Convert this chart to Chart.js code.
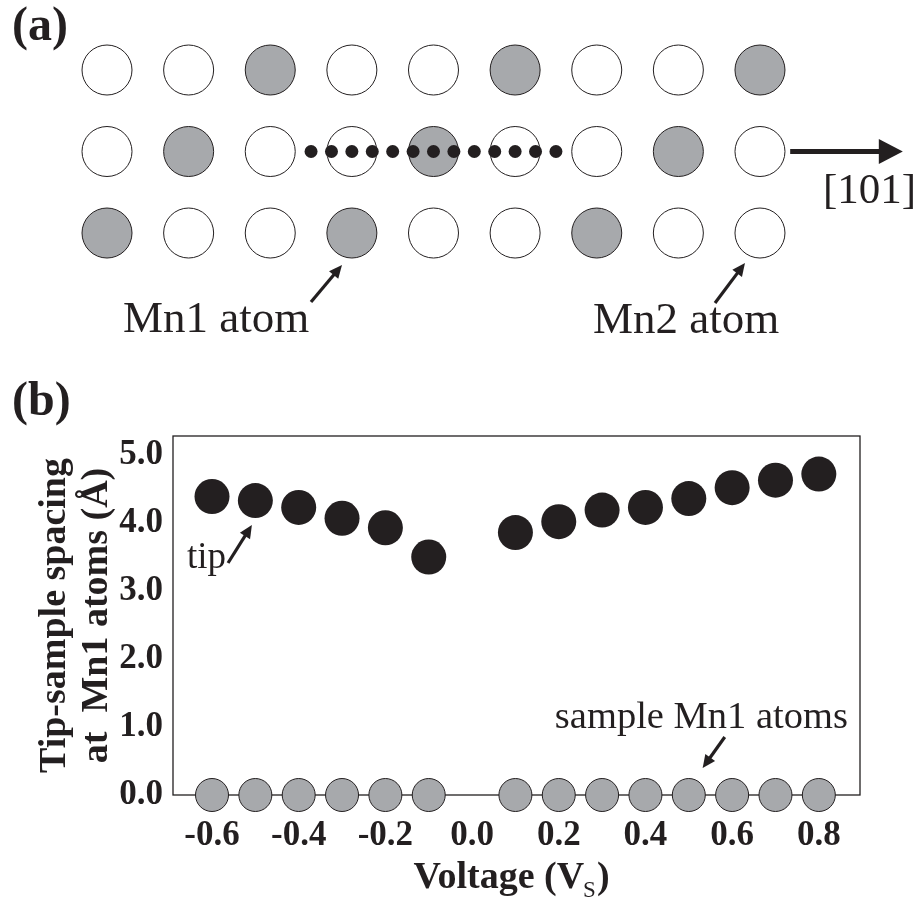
<!DOCTYPE html>
<html>
<head>
<meta charset="utf-8">
<title>Tip-sample spacing at Mn1 atoms</title>
<script src="https://cdn.jsdelivr.net/npm/chart.js@4.4.1/dist/chart.umd.min.js"></script>
<style>
  html, body { margin: 0; padding: 0; background: #ffffff; }
  #figure { position: relative; width: 922px; height: 903px; overflow: hidden; }
  .panel { position: absolute; left: 0; width: 922px; }
  #panelA { top: 0; height: 360px; }
  #panelB { top: 360px; height: 543px; }
  canvas { display: block; }
</style>
</head>
<body>
<div id="figure">
  <div class="panel" id="panelA"><canvas id="lattice" width="922" height="360"></canvas></div>
  <div class="panel" id="panelB"><canvas id="spacing" width="922" height="543"></canvas></div>
</div>
<script>
// ---------- panel (a): surface lattice ----------
// columns along [101] and the three atom rows
const latticeColumns = [1, 2, 3, 4, 5, 6, 7, 8, 9];
const latticeRows = [1, 2, 3];
// Mn1 (grey) sites per row, by column
const mn1ColsRow1 = [3, 6, 9];
const mn1ColsRow2 = [2, 5, 8];
const mn1ColsRow3 = [1, 4, 7];
// Mn2 (white) sites per row, by column
const mn2ColsRow1 = [1, 2, 4, 5, 7, 8];
const mn2ColsRow2 = [1, 3, 4, 6, 7, 9];
const mn2ColsRow3 = [2, 3, 5, 6, 8, 9];
// scan path dots along the middle row
const scanRow = 2;
const scanDots = [3.5, 3.75, 4.0, 4.25, 4.5, 4.75, 5.0, 5.25, 5.5, 5.75, 6.0, 6.25, 6.5];

// ---------- panel (b): tip-sample spacing ----------
const voltages = [-0.6, -0.5, -0.4, -0.3, -0.2, -0.1, 0.1, 0.2, 0.3, 0.4, 0.5, 0.6, 0.7, 0.8];
const tipSpacing = [4.39, 4.33, 4.23, 4.07, 3.93, 3.50, 3.86, 4.02, 4.19, 4.23, 4.36, 4.52, 4.63, 4.72];
const sampleHeight = [0, 0, 0, 0, 0, 0, 0, 0, 0, 0, 0, 0, 0, 0];
const xTicks = [-0.6, -0.4, -0.2, 0.0, 0.2, 0.4, 0.6, 0.8];
const yTicks = [0, 1, 2, 3, 4, 5];

const INK = '#231f20';
const MN1_GREY = '#a7a9ac';
const SERIF = '"Liberation Serif", "Times New Roman", Times, serif';

function sitesInRow(cols, row) {
  return cols.map(c => ({ x: c, y: row }));
}

function drawArrow(ctx, x0, y0, x1, y1, width, headLen, headHalf) {
  const ang = Math.atan2(y1 - y0, x1 - x0);
  const bx = x1 - headLen * Math.cos(ang);
  const by = y1 - headLen * Math.sin(ang);
  ctx.save();
  ctx.strokeStyle = INK;
  ctx.fillStyle = INK;
  ctx.lineWidth = width;
  ctx.lineCap = 'butt';
  ctx.beginPath();
  ctx.moveTo(x0, y0);
  ctx.lineTo(bx + Math.cos(ang), by + Math.sin(ang));
  ctx.stroke();
  ctx.beginPath();
  ctx.moveTo(x1, y1);
  ctx.lineTo(bx + headHalf * Math.sin(ang), by - headHalf * Math.cos(ang));
  ctx.lineTo(bx - headHalf * Math.sin(ang), by + headHalf * Math.cos(ang));
  ctx.closePath();
  ctx.fill();
  ctx.restore();
}

function drawText(ctx, text, x, y, font, align) {
  ctx.save();
  ctx.font = font;
  ctx.fillStyle = INK;
  ctx.textAlign = align || 'left';
  ctx.textBaseline = 'alphabetic';
  ctx.fillText(text, x, y);
  ctx.restore();
}

// labels and arrows of the lattice sketch, placed in lattice units
const latticeNotes = {
  id: 'latticeNotes',
  afterDatasetsDraw(chart) {
    const { ctx, scales: { x, y } } = chart;
    const px = v => x.getPixelForValue(v);
    const py = v => y.getPixelForValue(v);
    // [101] direction arrow leaving the middle row
    drawArrow(ctx, px(9.37), py(2), px(10.75), py(2), 5, 24, 12.5);
    drawText(ctx, '[101]', px(9.772), py(2.632), '43px ' + SERIF);
    // site pointers
    drawArrow(ctx, px(3.499), py(3.847), px(3.879), py(3.393), 3.2, 13, 6);
    drawText(ctx, 'Mn1 atom', px(1.196), py(4.215), '45px ' + SERIF);
    drawArrow(ctx, px(8.449), py(3.859), px(8.816), py(3.368), 3.2, 13, 6);
    drawText(ctx, 'Mn2 atom', px(6.954), py(4.227), '45px ' + SERIF);
    // panel tag
    drawText(ctx, '(a)', 12, 40, 'bold 48px ' + SERIF);
  }
};

new Chart(document.getElementById('lattice'), {
  type: 'scatter',
  data: {
    datasets: [
      {
        label: 'scan path',
        data: scanDots.map(c => ({ x: c, y: scanRow })),
        pointRadius: 6.5,
        pointBackgroundColor: INK,
        pointBorderWidth: 0,
        order: 0
      },
      {
        label: 'Mn1 atoms',
        data: [
          ...sitesInRow(mn1ColsRow1, latticeRows[0]),
          ...sitesInRow(mn1ColsRow2, latticeRows[1]),
          ...sitesInRow(mn1ColsRow3, latticeRows[2])
        ],
        pointRadius: 25,
        pointBackgroundColor: MN1_GREY,
        pointBorderColor: INK,
        pointBorderWidth: 1,
        order: 1
      },
      {
        label: 'Mn2 atoms',
        data: [
          ...sitesInRow(mn2ColsRow1, latticeRows[0]),
          ...sitesInRow(mn2ColsRow2, latticeRows[1]),
          ...sitesInRow(mn2ColsRow3, latticeRows[2])
        ],
        pointRadius: 25,
        pointBackgroundColor: '#ffffff',
        pointBorderColor: INK,
        pointBorderWidth: 1,
        order: 1
      }
    ]
  },
  options: {
    responsive: false,
    animation: false,
    events: [],
    layout: { padding: 0, autoPadding: false },
    plugins: { legend: { display: false }, tooltip: { enabled: false } },
    scales: {
      x: { type: 'linear', display: false, min: latticeColumns[0] - 1.311, max: latticeColumns[8] + 1.985 },
      y: { type: 'linear', display: false, reverse: true, min: latticeRows[0] - 0.859, max: latticeRows[2] + 1.558 }
    }
  },
  plugins: [latticeNotes]
});

// frame around the plotting area, drawn beneath the markers
const plotFrame = {
  id: 'plotFrame',
  beforeDatasetsDraw(chart) {
    const { ctx, chartArea: a } = chart;
    ctx.save();
    ctx.strokeStyle = INK;
    ctx.lineWidth = 1.3;
    ctx.strokeRect(a.left, a.top, a.right - a.left, a.bottom - a.top);
    ctx.restore();
  }
};

// annotations, x-axis title with subscript, panel tag
const spacingNotes = {
  id: 'spacingNotes',
  afterDatasetsDraw(chart) {
    const { ctx, chartArea: a, scales: { x, y } } = chart;
    const px = v => x.getPixelForValue(v);
    const py = v => y.getPixelForValue(v);
    drawText(ctx, 'tip', px(-0.6576), py(3.338), '37px ' + SERIF);
    drawArrow(ctx, px(-0.563), py(3.412), px(-0.508), py(3.971), 3.2, 13, 6);
    drawText(ctx, 'sample Mn1 atoms', px(0.191), py(0.985), '38.5px ' + SERIF);
    drawArrow(ctx, px(0.583), py(0.853), px(0.532), py(0.397), 3.2, 13, 6);

    // "Voltage (V_S)"
    const mainFont = 'bold 38px ' + SERIF;
    const subFont = '23px ' + SERIF;
    ctx.save();
    ctx.font = mainFont;
    const w1 = ctx.measureText('Voltage (V').width;
    const w3 = ctx.measureText(')').width;
    ctx.font = subFont;
    const w2 = ctx.measureText('S').width;
    ctx.restore();
    const total = w1 + w2 + w3;
    const base = a.bottom + 93;
    let sx = (a.left + a.right) / 2 - 5 - total / 2;
    drawText(ctx, 'Voltage (V', sx, base, mainFont);
    drawText(ctx, 'S', sx + w1 - 1, base + 9, subFont);
    drawText(ctx, ')', sx + w1 + w2, base, mainFont);

    drawText(ctx, '(b)', 12, 55, 'bold 48px ' + SERIF);
  }
};

const tickFont = { family: SERIF, size: 35, weight: 'bold' };

new Chart(document.getElementById('spacing'), {
  type: 'scatter',
  data: {
    datasets: [
      {
        label: 'tip',
        data: voltages.map((v, i) => ({ x: v, y: tipSpacing[i] })),
        pointRadius: 17.5,
        pointBackgroundColor: INK,
        pointBorderWidth: 0,
        clip: false
      },
      {
        label: 'sample Mn1 atoms',
        data: voltages.map((v, i) => ({ x: v, y: sampleHeight[i] })),
        pointRadius: 16.5,
        pointBackgroundColor: MN1_GREY,
        pointBorderColor: INK,
        pointBorderWidth: 1,
        clip: false
      }
    ]
  },
  options: {
    responsive: false,
    animation: false,
    events: [],
    layout: { padding: { top: 76, right: 62, bottom: 0, left: 0 }, autoPadding: false },
    plugins: { legend: { display: false }, tooltip: { enabled: false } },
    scales: {
      x: {
        type: 'linear',
        min: -0.69,
        max: 0.895,
        grid: { display: false, drawTicks: false },
        border: { display: false },
        afterBuildTicks: s => { s.ticks = xTicks.map(v => ({ value: v })); },
        afterFit: s => { s.height = 108; },
        ticks: {
          autoSkip: false,
          maxRotation: 0,
          padding: 20,
          color: INK,
          font: tickFont,
          callback: v => Number(v).toFixed(1)
        }
      },
      y: {
        type: 'linear',
        min: 0,
        max: 5.28,
        grid: { display: false, drawTicks: false },
        border: { display: false },
        afterBuildTicks: s => { s.ticks = yTicks.map(v => ({ value: v })); },
        afterFit: s => { s.width = 173; },
        ticks: {
          autoSkip: false,
          padding: 10,
          color: INK,
          font: tickFont,
          callback: v => Number(v).toFixed(1)
        },
        title: {
          display: true,
          text: ['Tip-sample spacing', 'at  Mn1 atoms (Å)'],
          color: INK,
          font: { family: SERIF, size: 38, weight: 'bold', lineHeight: 1.1 },
          padding: { top: 34, bottom: 0 }
        }
      }
    }
  },
  plugins: [plotFrame, spacingNotes]
});
</script>
</body>
</html>
